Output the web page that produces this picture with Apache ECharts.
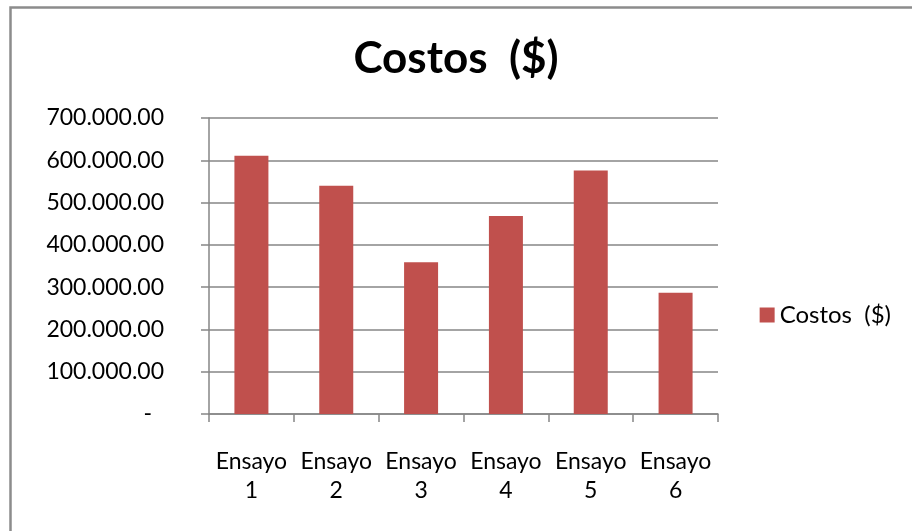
<!DOCTYPE html>
<html>
<head>
<meta charset="utf-8">
<script src="https://cdn.jsdelivr.net/npm/echarts@6/dist/echarts.min.js"></script>
<style>
  html, body { margin: 0; padding: 0; background: #fff; }
  #chart { width: 912px; height: 531px; }
</style>
</head>
<body>
<div id="chart"></div>
<script>
// Costos ($) por ensayo
const categorias = ['Ensayo\n1', 'Ensayo\n2', 'Ensayo\n3', 'Ensayo\n4', 'Ensayo\n5', 'Ensayo\n6'];
const costos = [611000, 540000, 359000, 468000, 576000, 287000];
const serieNombre = 'Costos  ($)';

const GRIS = '#868686';
const FONT = 'Lato';

// formato tipo contabilidad: 700.000.00 y "-" para el cero
const fmtY = v => {
  if (v === 0) return '{z|-}';
  const miles = Math.floor(v / 1000);
  return miles + '.000.00';
};

const chart = echarts.init(document.getElementById('chart'), null, { renderer: 'canvas' });

chart.setOption({
  animation: false,
  textStyle: { fontFamily: FONT },
  title: {
    text: 'Costos  ($)',
    left: 'center', top: 32,
    textStyle: { fontFamily: FONT, fontWeight: 'bold', fontSize: 44, color: '#000' },
  },
  legend: {
    right: 16, top: 298, orient: 'vertical',
    itemWidth: 15, itemHeight: 15, itemGap: 10,
    icon: 'rect',
    textStyle: { fontFamily: FONT, fontSize: 24, color: '#000' },
    data: [serieNombre],
  },
  grid: { left: 209, right: 194, top: 118, bottom: 117 },
  xAxis: {
    type: 'category', data: categorias,
    axisLine: { lineStyle: { color: GRIS, width: 1.5 } },
    axisTick: { show: true, length: 8, lineStyle: { color: GRIS, width: 1.5 } },
    axisLabel: { color: '#000', fontSize: 23, lineHeight: 29, margin: 33, interval: 0 },
  },
  yAxis: {
    type: 'value', min: 0, max: 700000, interval: 100000,
    axisLine: { show: true, lineStyle: { color: GRIS, width: 1.5 } },
    axisTick: { show: true, length: 8, lineStyle: { color: GRIS, width: 1.5 } },
    splitLine: { lineStyle: { color: GRIS, width: 1.5 } },
    axisLabel: {
      color: '#000', fontSize: 23, margin: 45, formatter: fmtY,
      rich: { z: { fontSize: 23, color: '#000', padding: [0, 12, 0, 0] } },
    },
  },
  series: [{
    name: serieNombre, type: 'bar', data: costos,
    barWidth: 34,
    itemStyle: { color: '#C0504D' },
  }],
  graphic: [{
    type: 'rect', left: 8, top: 5, z: -1,
    shape: { width: 940, height: 560 },
    style: { fill: 'none', stroke: '#8c8c8c', lineWidth: 2.5 },
  }],
});
</script>
</body>
</html>
